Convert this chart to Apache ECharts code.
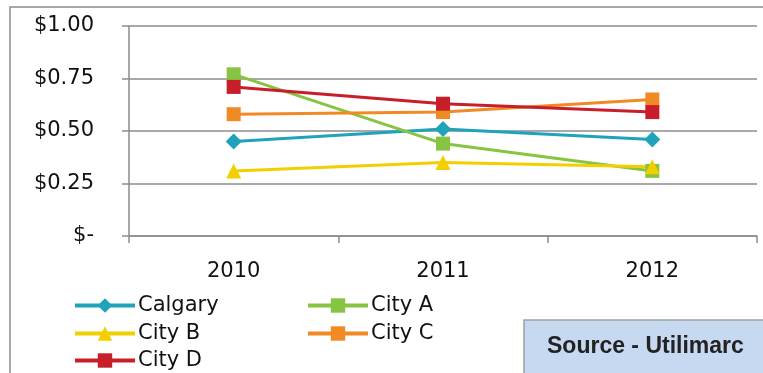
<!DOCTYPE html>
<html>
<head>
<meta charset="utf-8">
<script src="https://cdn.jsdelivr.net/npm/echarts@6/dist/echarts.min.js"></script>
<style>
  html, body { margin: 0; padding: 0; background: #fff; }
  #chart { width: 763px; height: 373px; }
</style>
</head>
<body>
<div id="chart"></div>
<script>
// Average cost per year, by city
const years = ['2010', '2011', '2012'];
const seriesNames = ['Calgary', 'City A', 'City B', 'City C', 'City D'];
const calgary = [0.45, 0.51, 0.46];
const cityA = [0.77, 0.44, 0.31];
const cityB = [0.31, 0.35, 0.33];
const cityC = [0.58, 0.59, 0.65];
const cityD = [0.71, 0.63, 0.59];
const yTickLabels = ['$-', '$0.25', '$0.50', '$0.75', '$1.00'];
const sourceText = 'Source - Utilimarc';

const colors = ['#1ea3b9', '#86c441', '#f2d000', '#f08a24', '#c81e2a'];
const symbols = ['diamond', 'rect', 'triangle', 'rect', 'rect'];
const symbolSizes = [16, 14, 15, 14, 14];
const values = [calgary, cityA, cityB, cityC, cityD];

const font = 'DejaVu Sans, Liberation Sans, Arial, sans-serif';

// one legend per entry so each sits in its own slot
const legendSlots = [
  { left: 68, top: 290 },
  { left: 301, top: 290 },
  { left: 68, top: 318 },
  { left: 301, top: 318 },
  { left: 68, top: 345 }
];

const chart = echarts.init(document.getElementById('chart'), null, { renderer: 'canvas' });

chart.setOption({
  animation: false,
  backgroundColor: '#ffffff',
  grid: { left: 129, right: 6, top: 26, bottom: 137 },
  xAxis: {
    type: 'category',
    data: years,
    boundaryGap: true,
    axisLine: { lineStyle: { color: '#8c8c8c', width: 1.5 } },
    axisTick: { show: true, length: 7, inside: false, lineStyle: { color: '#8c8c8c', width: 1.5 } },
    axisLabel: { color: '#111', fontFamily: font, fontSize: 21, margin: 25 },
    splitLine: { show: false }
  },
  yAxis: {
    type: 'value',
    min: 0,
    max: 1,
    interval: 0.25,
    axisLine: { show: true, lineStyle: { color: '#8c8c8c', width: 1.5 } },
    axisTick: { show: true, length: 7, lineStyle: { color: '#8c8c8c', width: 1.5 } },
    axisLabel: {
      color: '#111', fontFamily: font, fontSize: 21, margin: 35,
      formatter: function (v) { return yTickLabels[Math.round(v / 0.25)]; }
    },
    splitLine: { show: true, lineStyle: { color: '#8c8c8c', width: 1.5 } }
  },
  legend: seriesNames.map(function (name, i) {
    return {
      data: [name],
      left: legendSlots[i].left,
      top: legendSlots[i].top,
      itemWidth: 60,
      itemHeight: 18,
      itemGap: 4,
      selectedMode: false,
      lineStyle: { width: 4 },
      textStyle: { color: '#111', fontFamily: font, fontSize: 21, padding: [0, 0, 0, -2] }
    };
  }),
  series: seriesNames.map(function (name, i) {
    return {
      name: name,
      type: 'line',
      data: values[i],
      color: colors[i],
      symbol: symbols[i],
      symbolSize: symbolSizes[i],
      lineStyle: { width: 3, color: colors[i] },
      itemStyle: { color: colors[i] }
    };
  }),
  graphic: [
    {
      type: 'rect',
      silent: true,
      shape: { x: 10, y: 7, width: 800, height: 400 },
      style: { fill: 'none', stroke: '#8c8c8c', lineWidth: 1.5 },
      z: -1
    },
    {
      type: 'rect',
      silent: true,
      shape: { x: 524, y: 320, width: 260, height: 70 },
      style: { fill: '#c6d9f1', stroke: '#a0a0a0', lineWidth: 1.5 },
      z: 5
    },
    {
      type: 'text',
      silent: true,
      left: 547,
      top: 335,
      style: { text: sourceText, fill: '#222', font: 'bold 23px Liberation Sans, Arial, sans-serif' },
      z: 6
    }
  ]
});
</script>
</body>
</html>
